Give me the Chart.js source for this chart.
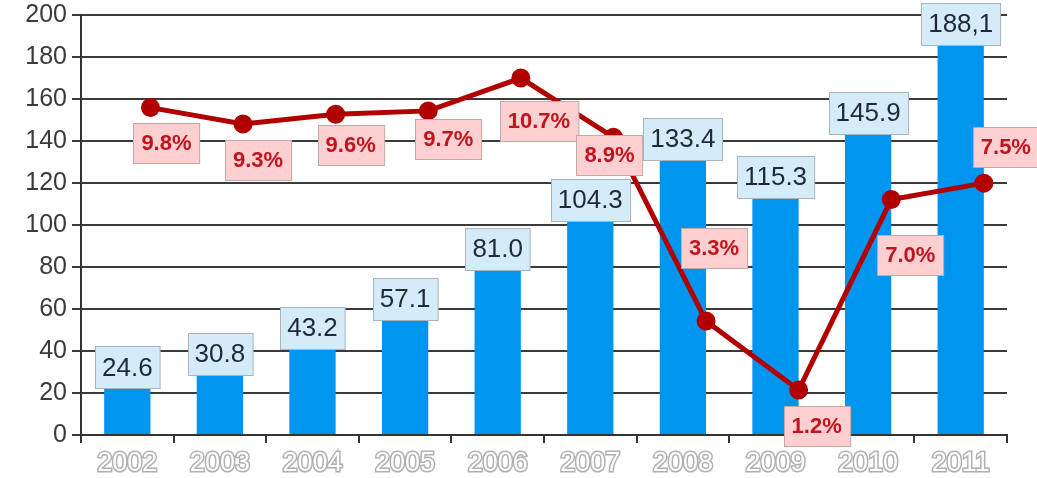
<!DOCTYPE html>
<html>
<head>
<meta charset="utf-8">
<script src="https://cdn.jsdelivr.net/npm/chart.js@4.4.1/dist/chart.umd.min.js"></script>
<style>
  html, body { margin: 0; padding: 0; background: #fff; }
  #wrap { width: 1037px; height: 478px; }
</style>
</head>
<body>
<div id="wrap"><canvas id="chart"></canvas></div>
<script>
const years = ['2002', '2003', '2004', '2005', '2006', '2007', '2008', '2009', '2010', '2011'];
const barValues = [24.6, 30.8, 43.2, 57.1, 81.0, 104.3, 133.4, 115.3, 145.9, 188.1];
const barLabels = ['24.6', '30.8', '43.2', '57.1', '81.0', '104.3', '133.4', '115.3', '145.9', '188,1'];
const growth = [9.8, 9.3, 9.6, 9.7, 10.7, 8.9, 3.3, 1.2, 7.0, 7.5];
const yTicks = [0, 20, 40, 60, 80, 100, 120, 140, 160, 180, 200];

// where each % box sits relative to its point (px)
const pctOffsets = [[16, 35], [15, 36], [15, 31], [20, 28], [18, 43], [-4, 18], [8, -73], [18, 36], [19, 55], [22, -36]];

const FONT = '"Liberation Sans", Arial, sans-serif';

function drawBox(ctx, text, cx, cy, o) {
    ctx.font = o.font;
    const w = ctx.measureText(text).width + o.padX * 2;
    const h = o.h;
    const x = Math.round(cx - w / 2) + 0.5;
    const y = Math.round(cy - h / 2) + 0.5;
    ctx.fillStyle = o.bg;
    ctx.fillRect(x, y, w, h);
    ctx.strokeStyle = o.border;
    ctx.lineWidth = 1;
    ctx.strokeRect(x, y, w, h);
    ctx.fillStyle = o.color;
    ctx.textAlign = 'center';
    ctx.textBaseline = 'middle';
    ctx.fillText(text, cx, cy + 1);
}

const boxLabels = {
    id: 'boxLabels',
    afterDatasetsDraw(chart) {
        const ctx = chart.ctx;
        ctx.save();
        chart.getDatasetMeta(1).data.forEach((bar, i) => {
            drawBox(ctx, barLabels[i], bar.x, bar.y - 16, {
                font: '26px ' + FONT, padX: 7, h: 42,
                bg: '#d4ebfa', border: '#a9b4bc', color: '#1e2a36'
            });
        });
        chart.getDatasetMeta(0).data.forEach((pt, i) => {
            const off = pctOffsets[i];
            drawBox(ctx, growth[i].toFixed(1) + '%', pt.x + off[0], pt.y + off[1], {
                font: 'bold 22px ' + FONT, padX: 8, h: 40,
                bg: '#fccfd0', border: '#c4a8a8', color: '#c0141e'
            });
        });
        ctx.restore();
    }
};

const ctx = document.getElementById('chart').getContext('2d');
const myChart = new Chart(ctx, {
    type: 'bar',
    data: {
        labels: years,
        datasets: [{
            type: 'line',
            label: 'growth',
            data: years.map((y, i) => ({ x: Number(y), y: growth[i] })),
            xAxisID: 'xl',
            yAxisID: 'yp',
            borderColor: '#b00000',
            backgroundColor: '#b00000',
            borderWidth: 5,
            pointRadius: 7,
            pointHoverRadius: 7,
            tension: 0,
            order: 0
        }, {
            label: 'value',
            data: barValues,
            backgroundColor: '#0096f0',
            grouped: false,
            barPercentage: 0.5,
            categoryPercentage: 1,
            order: 1
        }]
    },
    options: {
        responsive: true,
        maintainAspectRatio: false,
        animation: false,
        layout: { padding: { top: 15, right: 30, left: 0, bottom: 0 } },
        plugins: { legend: { display: false }, tooltip: { enabled: false } },
        scales: {
            x: {
                offset: true,
                grid: {
                    offset: true,
                    drawOnChartArea: false,
                    drawTicks: true,
                    tickLength: 8,
                    color: '#333',
                    lineWidth: 2
                },
                border: { color: '#333', width: 2 },
                ticks: {
                    color: '#ffffff',
                    textStrokeColor: '#b0b0b0',
                    textStrokeWidth: 3,
                    font: { family: FONT, size: 27 },
                    padding: 4
                },
                afterFit(scale) { scale.height = 43; }
            },
            xl: {
                type: 'linear',
                display: false,
                offset: false,
                min: 2001.25,
                max: 2011.25
            },
            y: {
                min: 0,
                max: 200,
                afterBuildTicks(scale) { scale.ticks = yTicks.map(v => ({ value: v })); },
                grid: { color: '#3a3a3a', lineWidth: 2, tickLength: 9 },
                border: { color: '#333', width: 2 },
                ticks: {
                    color: '#3a3a3a',
                    font: { family: FONT, size: 25 },
                    padding: 5
                },
                afterFit(scale) {
                    scale.width = 81;
                    scale.paddingTop = 0;
                    scale.paddingBottom = 0;
                }
            },
            yp: {
                display: false,
                min: -0.17,
                max: 12.62
            }
        }
    },
    plugins: [boxLabels]
});
</script>
</body>
</html>
